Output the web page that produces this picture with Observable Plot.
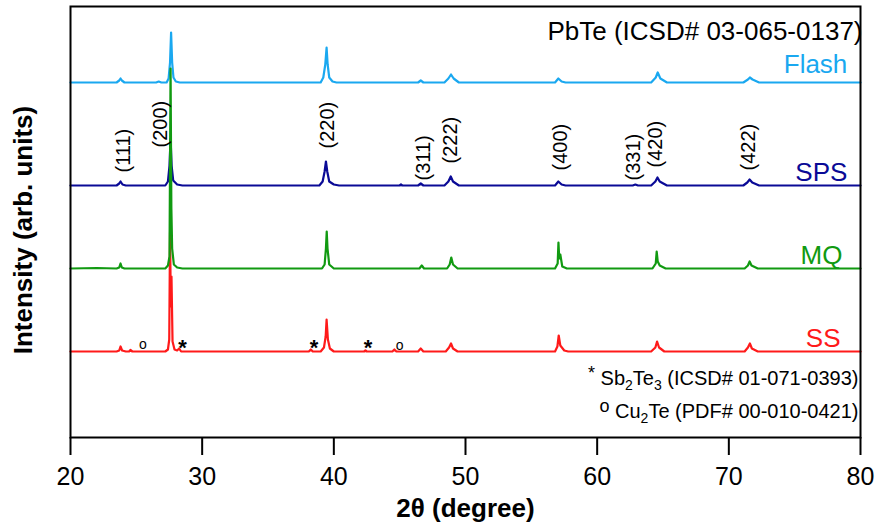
<!DOCTYPE html>
<html><head><meta charset="utf-8">
<script src="https://cdn.jsdelivr.net/npm/d3@7"></script>
<script src="https://cdn.jsdelivr.net/npm/@observablehq/plot@0.6"></script>
<style>body{margin:0;background:#fff} svg{display:block}</style>
</head><body><div id="chart"></div>
<script>
// ---- data (2θ in degrees, intensity in arb. units above each baseline) ----
const xTicks = [20, 30, 40, 50, 60, 70, 80];

const sampleNames   = ["SS", "MQ", "SPS", "Flash"];
const sampleOffsets = [86, 169, 252, 355];          // vertical stacking offsets (arb. units)

const ssPattern = [
  [20,0],[22.0,0],[23.5,0],[23.7,1],[23.8,5],[23.92,1],[24.2,0],[24.45,0],[24.55,1.5],[24.7,0],
  [27.2,0],[27.4,2],[27.5,12],[27.56,119],[27.62,45],[27.67,75],[27.75,10],[27.9,2],[28.1,1],[28.25,3],[28.4,0],
  [38.1,0],[38.25,2],[38.4,0],[39.0,0],[39.25,4],[39.38,15],[39.45,32],[39.55,12],[39.7,3],[40.0,0],
  [42.3,0],[42.4,1],[42.5,0],[44.45,0],[44.6,2],[44.75,0],
  [46.4,0],[46.6,3],[46.8,0],
  [48.5,0],[48.75,4],[48.9,8],[49.05,3],[49.4,0],
  [56.8,0],[56.98,5],[57.08,16],[57.2,6],[57.5,1],[57.8,0],
  [64.1,0],[64.42,4],[64.55,10],[64.7,4],[65.1,0],
  [71.2,0],[71.45,4],[71.6,8],[71.75,3],[72.2,0],
  [80,0]
];
const mqPattern = [
  [20,0],[22.0,0.5],[23.5,0],[23.7,1],[23.8,5],[23.9,1],[24.1,0],
  [27.2,0],[27.4,3],[27.52,12],[27.6,200],[27.66,60],[27.72,20],[27.85,4],[28.1,1],[28.5,0],
  [39.1,0],[39.3,4],[39.4,20],[39.46,37],[39.52,20],[39.65,4],[40.0,0],
  [46.5,0],[46.68,3],[46.85,0],
  [48.6,0],[48.8,4],[48.92,11],[49.05,4],[49.4,0],
  [56.8,0],[57.0,5],[57.06,26],[57.12,10],[57.2,14],[57.35,2],[57.7,0],
  [64.2,0],[64.45,5],[64.52,17],[64.6,7],[64.75,3],[65.2,0],
  [71.2,0],[71.45,3],[71.58,7],[71.72,3],[72.2,0],
  [80,0]
];
const spsPattern = [
  [20,0],[23.5,0],[23.7,2],[23.8,4],[23.95,1],[24.2,0],
  [27.2,0],[27.4,4],[27.52,20],[27.6,47],[27.68,20],[27.8,5],[28.1,1],[28.5,0],
  [38.9,0],[39.15,4],[39.3,14],[39.4,24],[39.5,14],[39.65,4],[40.0,1],[40.4,0],
  [45.0,0],[45.1,1],[45.2,0],
  [46.4,0],[46.6,2],[46.8,0],
  [48.4,0],[48.7,4],[48.88,9],[49.05,4],[49.5,0],
  [56.8,0],[57.05,4],[57.3,1],[57.6,0],
  [62.7,0],[62.9,1],[63.1,0],
  [64.1,0],[64.42,4],[64.58,8],[64.75,4],[65.3,0],
  [71.1,0],[71.4,3],[71.58,6],[71.78,3],[72.3,0],
  [80,0]
];
const flashPattern = [
  [20,0],[23.5,0],[23.7,2],[23.8,4],[23.9,2],[24.1,0],
  [26.5,0],[26.7,1],[26.9,0],
  [27.3,0],[27.45,4],[27.56,20],[27.64,50],[27.72,20],[27.82,5],[28.0,1],[28.3,0],
  [39.0,0],[39.2,5],[39.35,18],[39.45,35],[39.53,18],[39.65,5],[39.9,1],[40.2,0],
  [46.4,0],[46.6,2],[46.8,0],
  [48.4,0],[48.7,4],[48.9,8],[49.1,4],[49.5,0],
  [56.8,0],[57.05,4],[57.3,1],[57.6,0],
  [64.1,0],[64.45,5],[64.6,10],[64.8,4],[65.3,0],
  [71.1,0],[71.45,3],[71.6,5],[71.8,3],[72.3,0],
  [80,0]
];
const patterns = [ssPattern, mqPattern, spsPattern, flashPattern];

// sample label anchors (data coords)
const sampleLabelX = [78.48, 78.63, 79.0, 79.0];
const sampleLabelY = [99, 182, 265, 373];

// Miller index labels
const hklLabels = ["(111)", "(200)", "(220)", "(311)", "(222)", "(400)", "(331)", "(420)", "(422)"];
const hklX      = [24.0, 26.84, 39.52, 46.81, 48.86, 57.21, 62.76, 64.43, 71.5];
const hklY      = [265, 290, 289, 257, 274, 267, 257, 270, 267];

// impurity markers on the SS pattern
const markerSymbols = ["o", "*", "*", "*", "o"];
const markerX       = [25.5, 28.5, 38.5, 42.6, 45.0];
const markerY       = [93, 90, 90, 90, 92];

const titleText = "PbTe (ICSD# 03-065-0137)";
const legendRuns = [
  [["*","sup"],[" Sb"],["2","sub"],["Te"],["3","sub"],[" (ICSD# 01-071-0393)"]],
  [["o","sup"],[" Cu"],["2","sub"],["Te (PDF# 00-010-0421)"]]
];
const legendY = [58.5, 25.5];

// ---- styles ----
const colors = {SS: "#ff1a1a", MQ: "#119a11", SPS: "#0a0a96", Flash: "#1aa8f0"};
const drawOrder = ["SS", "Flash", "SPS", "MQ"];
const FONT = "'Liberation Sans', Arial, Helvetica, sans-serif";

const rows = patterns.flatMap((p, i) => p.map(([t, v]) => ({sample: sampleNames[i], theta: t, I: v + sampleOffsets[i]})));
const legendText = legendRuns.map(r => r.map(s => s[0]).join(""));

const marks = [];
for (const s of drawOrder) {
  marks.push(Plot.line(rows.filter(r => r.sample === s), {x: "theta", y: "I", stroke: colors[s], strokeWidth: 2.2, curve: "linear"}));
}
sampleNames.forEach((s, i) => {
  marks.push(Plot.text([s], {x: sampleLabelX[i], y: sampleLabelY[i], text: d => d, textAnchor: "end", lineAnchor: "middle", fill: colors[s], fontSize: 26}));
});
marks.push(
  Plot.text(hklLabels, {x: (d, i) => hklX[i], y: (d, i) => hklY[i], text: d => d, rotate: -90, textAnchor: "start", lineAnchor: "middle", fontSize: 20, fill: "black"}),
  Plot.text(markerSymbols.map((d, i) => i).filter(i => markerSymbols[i] === "*"), {x: i => markerX[i], y: i => markerY[i], text: i => markerSymbols[i], fontSize: 22, fontWeight: "bold", lineAnchor: "middle", fill: "black"}),
  Plot.text(markerSymbols.map((d, i) => i).filter(i => markerSymbols[i] === "o"), {x: i => markerX[i], y: i => markerY[i], text: i => markerSymbols[i], fontSize: 14, lineAnchor: "middle", fill: "black"}),
  Plot.text([titleText], {x: 80, y: 406, text: d => d, textAnchor: "end", dx: 2, lineAnchor: "middle", fontSize: 26, fill: "black"}),
  Plot.text(legendText, {x: 79.85, y: (d, i) => legendY[i], text: d => d, textAnchor: "end", lineAnchor: "middle", fontSize: 20, fill: "black"}),
  Plot.frame({stroke: "black", strokeWidth: 2}),
  Plot.axisX({ticks: xTicks, tickSize: 18, tickPadding: 12, tickFormat: d => String(d), label: null, strokeWidth: 2, fontSize: 25}),
  Plot.text(["Intensity (arb. units)"], {frameAnchor: "left", text: d => d, rotate: -90, dx: -47, dy: 8, textAnchor: "middle", lineAnchor: "middle", fontWeight: "bold", fontSize: 26, fill: "black"}),
  Plot.text(["2θ (degree)"], {frameAnchor: "bottom", text: d => d, dy: 71, textAnchor: "middle", lineAnchor: "middle", fontWeight: "bold", fontSize: 26, fill: "black"})
);

const chart = Plot.plot({
  width: 876, height: 531,
  marginLeft: 70, marginRight: 16, marginTop: 6, marginBottom: 94,
  style: {fontFamily: FONT, fontSize: "25px", color: "black", background: "white", overflow: "visible"},
  x: {domain: [20, 80], label: null},
  y: {domain: [0, 431], axis: null},
  marks
});

// subscripts / superscripts in the legend lines
d3.select(chart).selectAll("text").each(function () {
  const i = legendText.indexOf(this.textContent);
  if (i < 0) return;
  const t = d3.select(this);
  t.text(null);
  let shift = 0;
  for (const [s, kind] of legendRuns[i]) {
    const target = kind === "sub" ? 5 : kind === "sup" ? -6 : 0;
    const sp = t.append("tspan").text(s).attr("dy", (target - shift) + "px");
    if (kind) sp.attr("font-size", kind === "sub" ? 14 : 18);
    shift = target;
  }
});

document.getElementById("chart").appendChild(chart);
</script>
</body></html>
